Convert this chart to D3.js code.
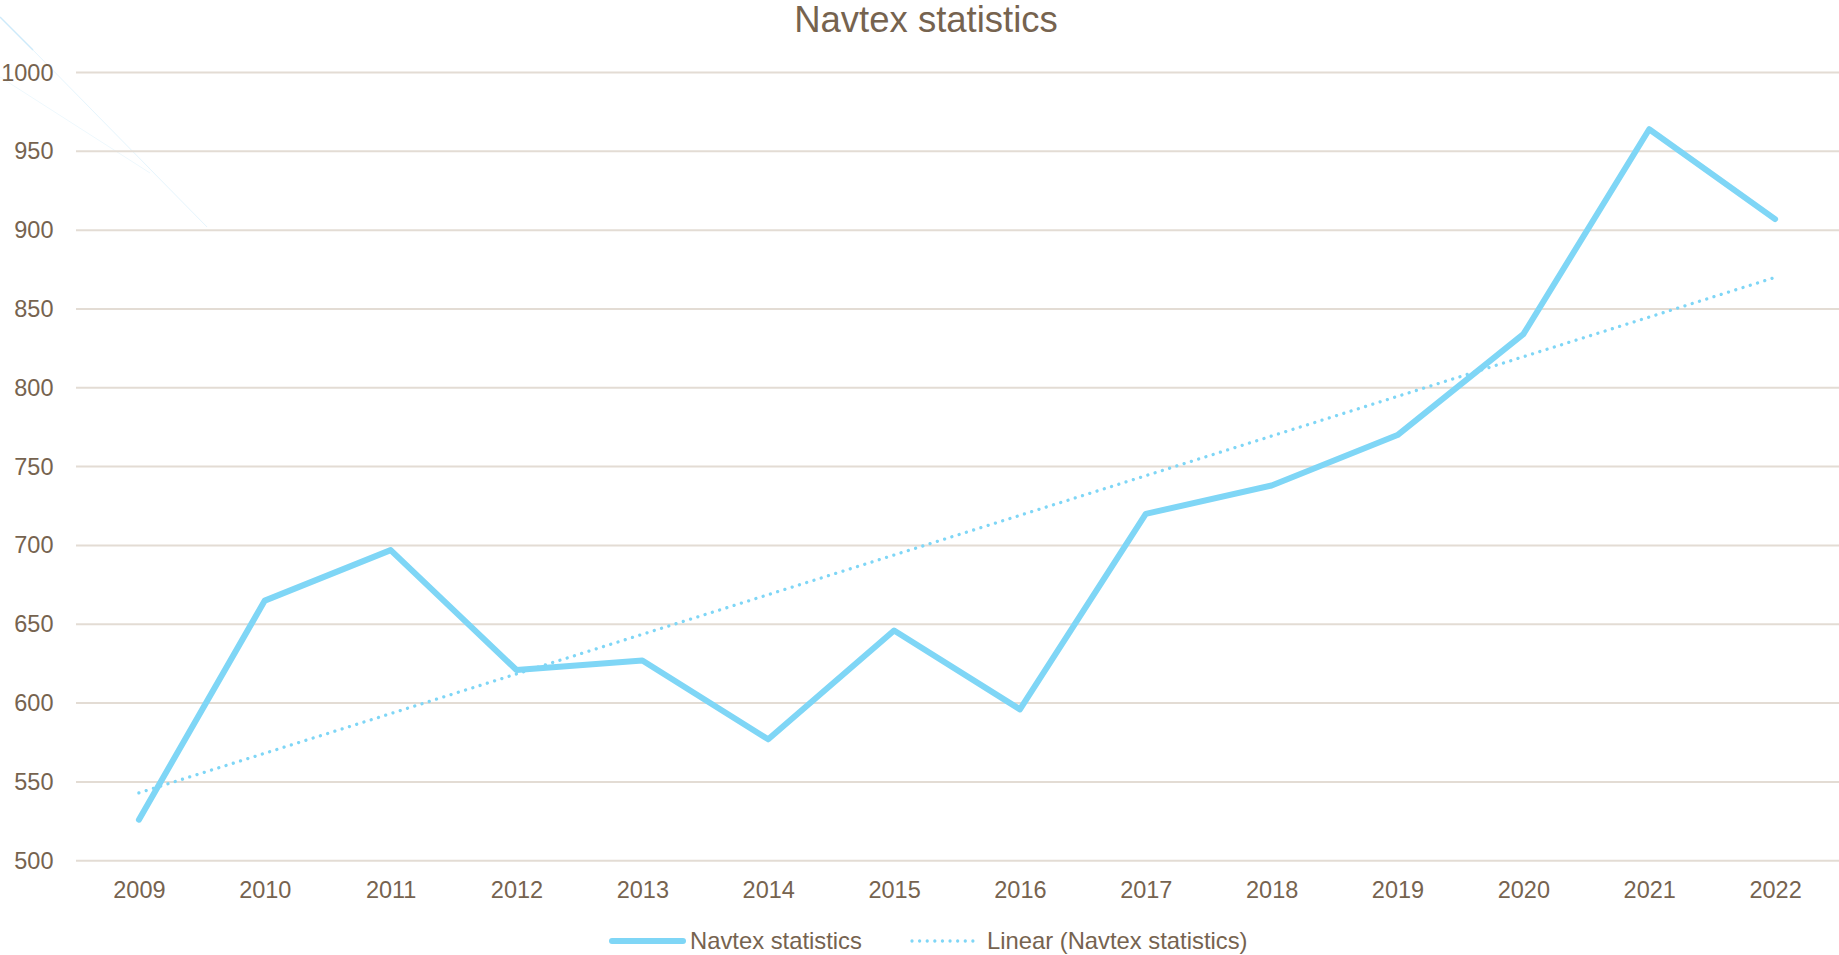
<!DOCTYPE html>
<html>
<head>
<meta charset="utf-8">
<script src="https://cdnjs.cloudflare.com/ajax/libs/d3/7.8.5/d3.min.js"></script>
<style>
  body { margin: 0; background: #fff; }
  svg text { font-family: "Liberation Sans", Arial, sans-serif; fill: #76634f; }
</style>
</head>
<body>
<div id="chart"></div>
<script>
// data
var years = ["2009", "2010", "2011", "2012", "2013", "2014", "2015",
             "2016", "2017", "2018", "2019", "2020", "2021", "2022"];
var navtex = [526, 665, 697, 621, 627, 577, 646, 596, 720, 738, 770, 834, 964, 907];
// linear trendline, value at first and last year
var trendYears = ["2009", "2022"];
var trendValues = [543, 870];
var yTicks = [500, 550, 600, 650, 700, 750, 800, 850, 900, 950, 1000];

var WIDTH = 1839, HEIGHT = 955;
var MARGINS = { top: 72.5, right: 1, bottom: 94.3, left: 76 };
var lineColor = "#7fd6f6";

var svg = d3.select("#chart").append("svg")
  .attr("width", WIDTH).attr("height", HEIGHT);

// faint decoration in the top left corner
svg.append("line").attr("x1", 0).attr("y1", 17).attr("x2", 33).attr("y2", 50)
  .attr("stroke", "#cdeafa").attr("stroke-width", 1.5);
svg.append("line").attr("x1", 33).attr("y1", 50).attr("x2", 207).attr("y2", 227)
  .attr("stroke", "#e6f5fd").attr("stroke-width", 1);
svg.append("line").attr("x1", 0).attr("y1", 77).attr("x2", 150).attr("y2", 173)
  .attr("stroke", "#eef8fd").attr("stroke-width", 1);

var xScale = d3.scalePoint().domain(years)
  .range([MARGINS.left, WIDTH - MARGINS.right]).padding(0.5);
var yScale = d3.scaleLinear().domain([500, 1000])
  .range([HEIGHT - MARGINS.bottom, MARGINS.top]);

// gridlines
svg.append("g").attr("class", "grid")
  .selectAll("line").data(yTicks).enter().append("line")
  .attr("x1", MARGINS.left).attr("x2", WIDTH)
  .attr("y1", function(d) { return yScale(d); })
  .attr("y2", function(d) { return yScale(d); })
  .attr("stroke", "#e3dcd4").attr("stroke-width", 2);

var yAxis = d3.axisLeft(yScale).tickValues(yTicks).tickSize(0).tickPadding(22.5)
  .tickFormat(d3.format("d"));
var gY = svg.append("g").attr("transform", "translate(" + MARGINS.left + ",0)").call(yAxis);
gY.select(".domain").remove();
gY.selectAll("text").style("font-size", "23.5px").attr("fill", "#76634f");

var xAxis = d3.axisBottom(xScale).tickSize(0).tickPadding(20.5);
var gX = svg.append("g").attr("transform", "translate(0," + yScale(500) + ")").call(xAxis);
gX.select(".domain").remove();
gX.selectAll("text").style("font-size", "23.5px").attr("fill", "#76634f");

var lineGen = d3.line()
  .x(function(d) { return xScale(d[0]); })
  .y(function(d) { return yScale(d[1]); });

svg.append("path")
  .attr("d", lineGen(years.map(function(y, i) { return [y, navtex[i]]; })))
  .attr("fill", "none").attr("stroke", lineColor).attr("stroke-width", 6)
  .attr("stroke-linejoin", "round").attr("stroke-linecap", "round");

svg.append("path")
  .attr("d", lineGen(trendYears.map(function(y, i) { return [y, trendValues[i]]; })))
  .attr("fill", "none").attr("stroke", lineColor).attr("stroke-width", 3.3)
  .attr("stroke-linecap", "round").attr("stroke-dasharray", "0.01 7.6");

// title
svg.append("text").attr("x", 926).attr("y", 31.5)
  .attr("text-anchor", "middle").style("font-size", "36.5px")
  .text("Navtex statistics");

// legend
var legend = svg.append("g").attr("class", "legend");
legend.append("line").attr("x1", 612).attr("x2", 683).attr("y1", 941).attr("y2", 941)
  .attr("stroke", lineColor).attr("stroke-width", 6).attr("stroke-linecap", "round");
legend.append("text").attr("x", 690).attr("y", 948.5).style("font-size", "23.8px")
  .text("Navtex statistics");
legend.append("line").attr("x1", 912).attr("x2", 980).attr("y1", 941).attr("y2", 941)
  .attr("stroke", lineColor).attr("stroke-width", 3.3).attr("stroke-linecap", "round")
  .attr("stroke-dasharray", "0.01 7.6");
legend.append("text").attr("x", 987).attr("y", 948.5).style("font-size", "23.8px")
  .text("Linear (Navtex statistics)");
</script>
</body>
</html>
